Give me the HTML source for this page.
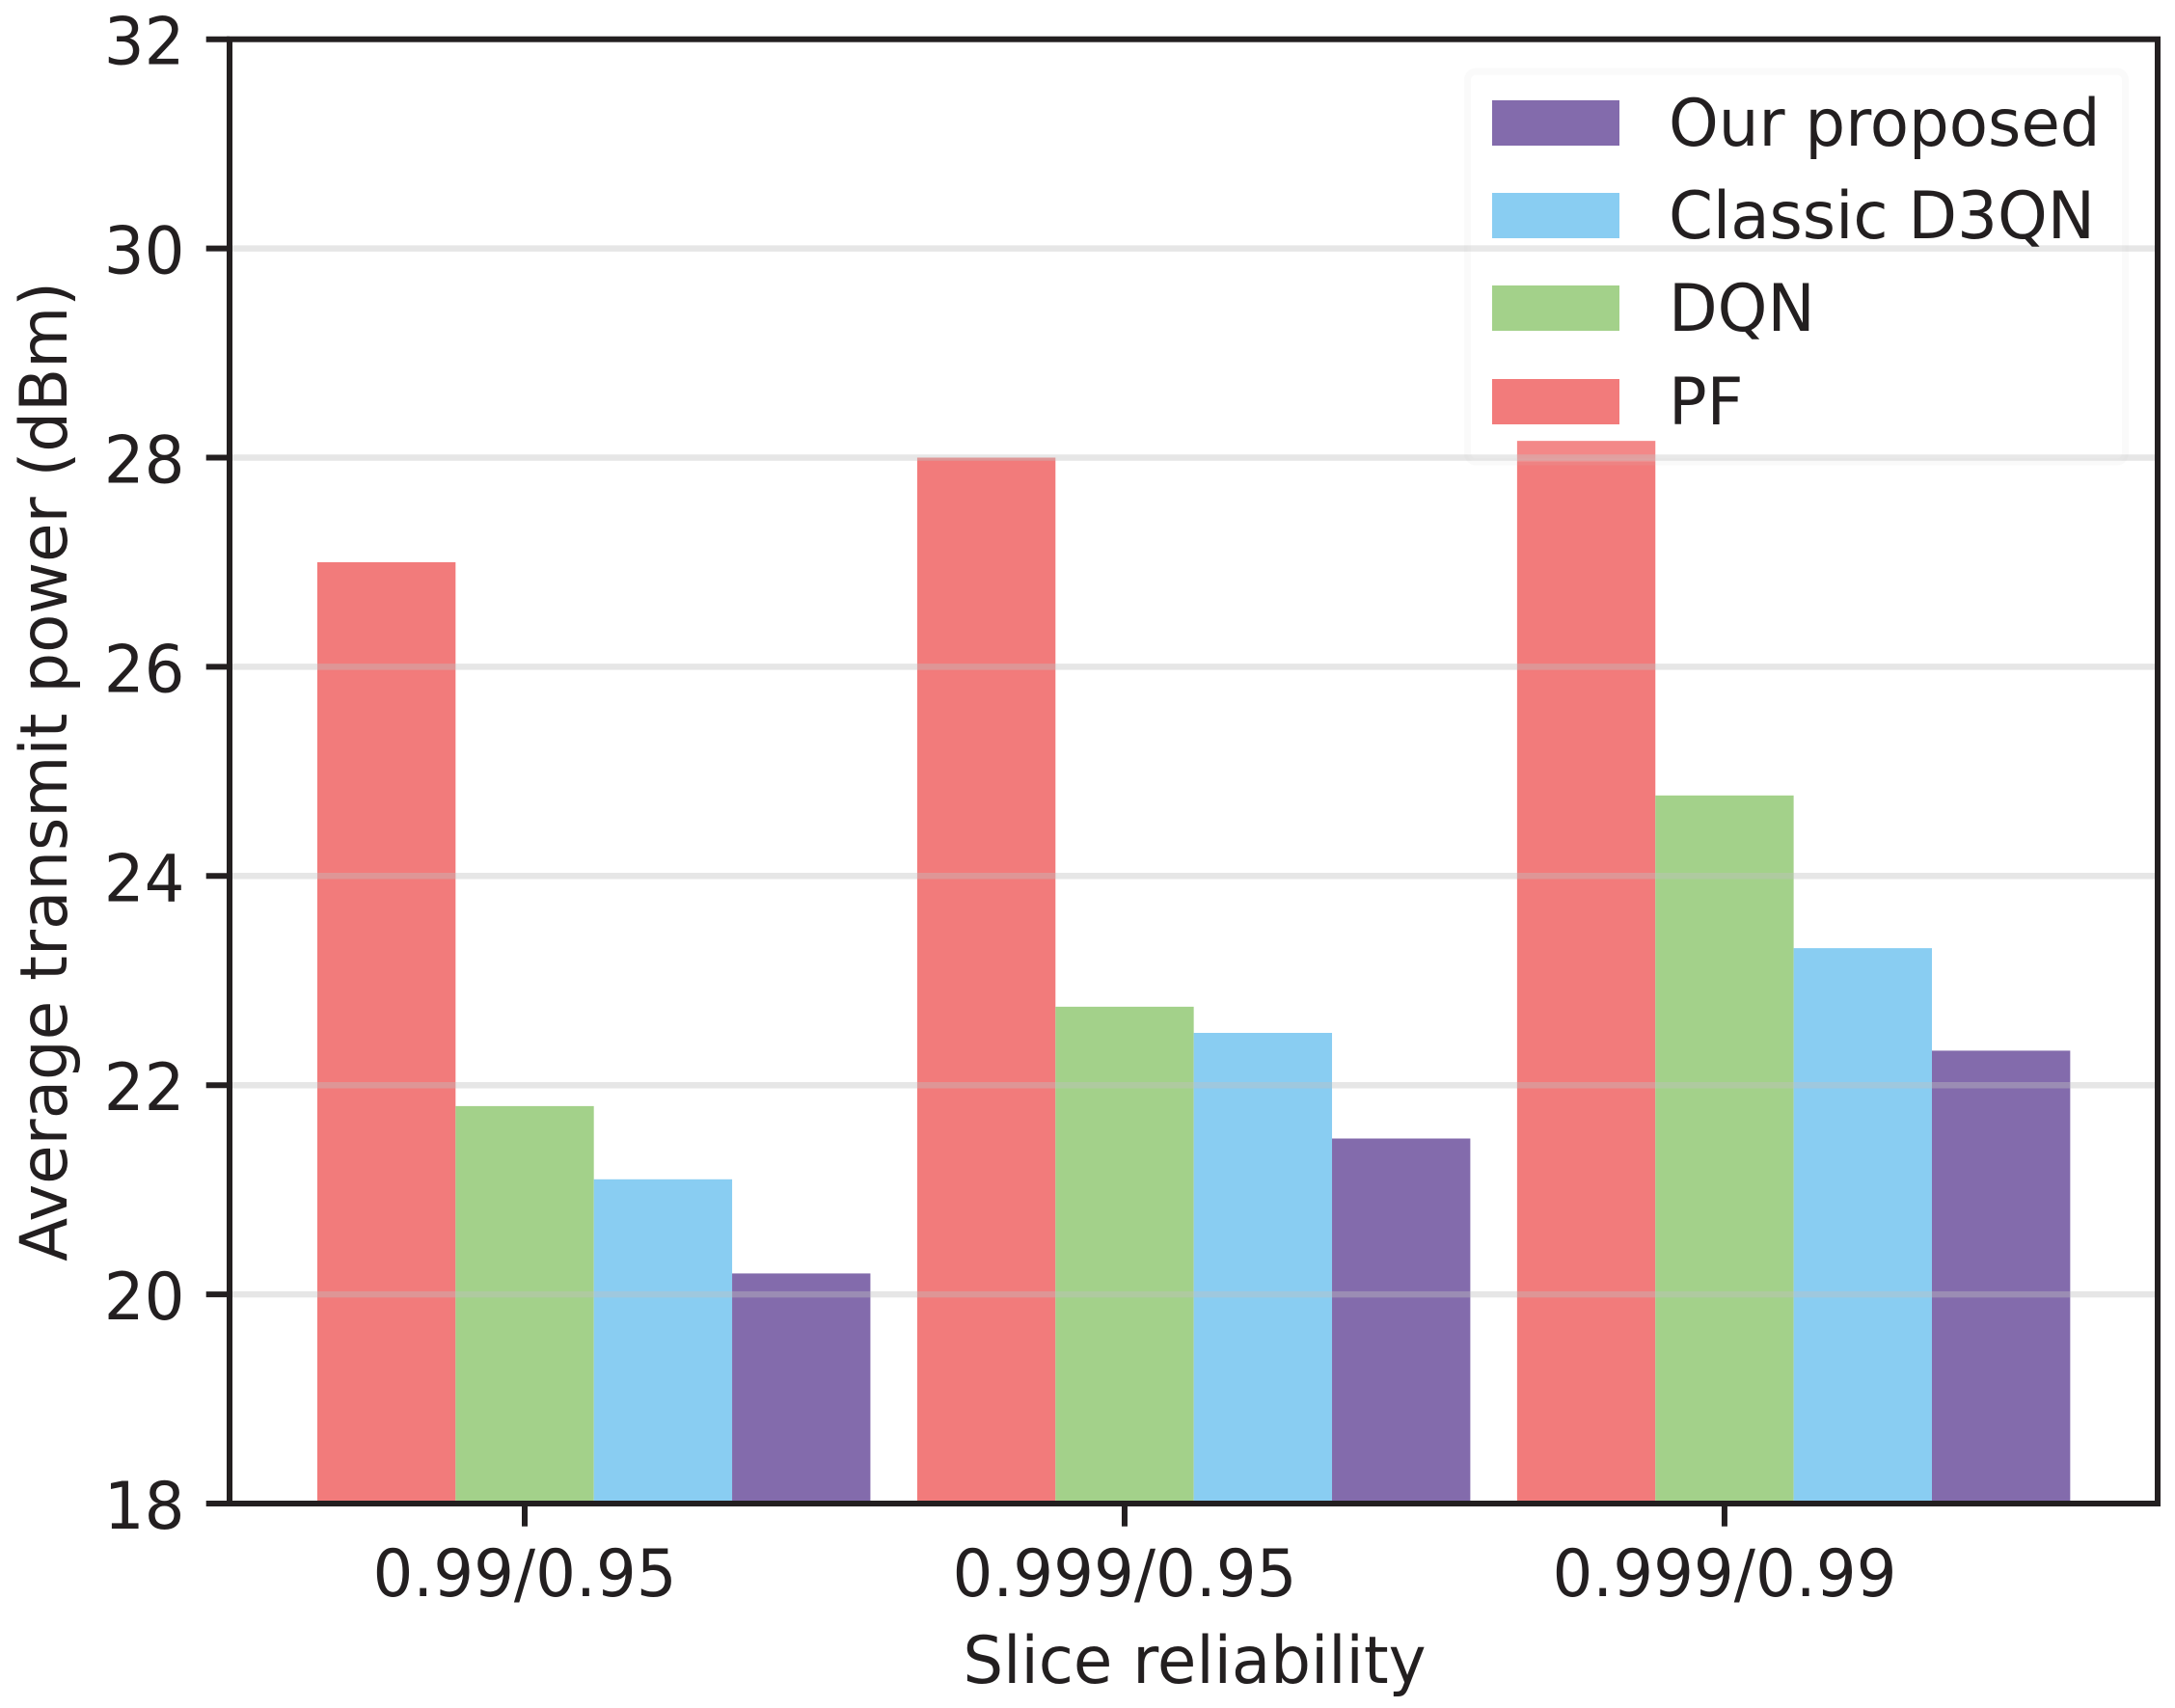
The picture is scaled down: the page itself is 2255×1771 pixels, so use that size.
<!DOCTYPE html>
<html lang="en">
<head>
<meta charset="utf-8">
<title>Average transmit power by slice reliability</title>
<style>
html,body{margin:0;padding:0;background:#fff;}
body{width:2255px;height:1771px;overflow:hidden;}
svg{display:block;}
text{font-family:"DejaVu Sans","Liberation Sans",sans-serif;fill:#231f20;}
</style>
</head>
<body>
<svg id="chart" xmlns="http://www.w3.org/2000/svg" width="2255" height="1771" viewBox="0 0 2255 1771">
  <rect x="0" y="0" width="2255" height="1771" fill="#ffffff"/>
  <g id="bars"></g>
  <g id="grid"></g>
  <g id="legend"></g>
  <g id="ticks"></g>
  <rect x="238" y="40.7" width="1999" height="1518.3" fill="none" stroke="#231f20" stroke-width="6"/>
  <text transform="translate(1238.5,1745) scale(1,1.03)" text-anchor="middle" font-size="65.8">Slice reliability</text>
  <text transform="translate(69,800) rotate(-90) scale(1,1.03)" text-anchor="middle" font-size="65.8">Average transmit power (dBm)</text>
</svg>
<script>
const categories = ['0.99/0.95', '0.999/0.95', '0.999/0.99'];
const pfValues = [27.0, 28.0, 28.16];
const dqnValues = [21.8, 22.75, 24.77];
const d3qnValues = [21.1, 22.5, 23.31];
const proposedValues = [20.2, 21.49, 22.33];
const yTickValues = [18, 20, 22, 24, 26, 28, 30, 32];
const legendLabels = ['Our proposed', 'Classic D3QN', 'DQN', 'PF'];

const NS = 'http://www.w3.org/2000/svg';
const plot = {left: 238, right: 2237, top: 40.7, bottom: 1559};
const xMin = -0.492, xMax = 2.722, yMin = 18, yMax = 32;
const barWidth = 0.2305;
const scaleX = v => plot.left + (v - xMin) / (xMax - xMin) * (plot.right - plot.left);
const scaleY = v => plot.bottom - (v - yMin) / (yMax - yMin) * (plot.bottom - plot.top);

function make(tag, attrs, parent) {
  const el = document.createElementNS(NS, tag);
  for (const k in attrs) el.setAttribute(k, attrs[k]);
  parent.appendChild(el);
  return el;
}

const barsG = document.getElementById('bars');
const gridG = document.getElementById('grid');
const ticksG = document.getElementById('ticks');
const legendG = document.getElementById('legend');

const seriesList = [
  {key: 'pf', values: pfValues, color: '#f27b7b'},
  {key: 'dqn', values: dqnValues, color: '#a3d18a'},
  {key: 'd3qn', values: d3qnValues, color: '#89cdf2'},
  {key: 'proposed', values: proposedValues, color: '#836bac'}
];

seriesList.forEach((s, si) => {
  s.values.forEach((v, i) => {
    const x0 = scaleX(i + (si - 1.5) * barWidth);
    const x1 = scaleX(i + (si - 0.5) * barWidth);
    const r = make('rect', {x: x0, y: scaleY(v), width: x1 - x0, height: plot.bottom - scaleY(v), fill: s.color}, barsG);
    
    
  });
});

yTickValues.forEach(v => {
  const y = scaleY(v);
  if (v !== yMin && v !== yMax) {
    const g = make('line', {x1: plot.left, x2: plot.right, y1: y, y2: y, stroke: '#c0c0c0', 'stroke-opacity': 0.4, 'stroke-width': 6.5}, gridG);
    
    
  }
  const t = make('line', {x1: 213.7, x2: plot.left, y1: y, y2: y, stroke: '#231f20', 'stroke-width': 6}, ticksG);
  
  
  const l = make('text', {transform: 'translate(191.5,' + (y + 26) + ') scale(1,1.03)', 'text-anchor': 'end', 'font-size': 65.8}, ticksG);
  l.textContent = String(v);
  
  
});

categories.forEach((c, i) => {
  const x = scaleX(i);
  const t = make('line', {x1: x, x2: x, y1: plot.bottom, y2: 1582.7, stroke: '#231f20', 'stroke-width': 6}, ticksG);
  
  
  const l = make('text', {transform: 'translate(' + x + ',1655) scale(1,1.03)', 'text-anchor': 'middle', 'font-size': 65.8}, ticksG);
  l.textContent = c;
  
  
});

const legendBox = make('rect', {x: 1521.5, y: 74, width: 682, height: 405, rx: 9, ry: 9, fill: '#ffffff', 'fill-opacity': 0.1, stroke: '#cccccc', 'stroke-opacity': 0.1, 'stroke-width': 7}, legendG);



const legendColors = ['#836bac', '#89cdf2', '#a3d18a', '#f27b7b'];
const legendRowTops = [104, 200, 296, 393];
legendLabels.forEach((label, i) => {
  const sw = make('rect', {x: 1547, y: legendRowTops[i], width: 132, height: 47, fill: legendColors[i]}, legendG);
  
  
  const t = make('text', {transform: 'translate(1730,' + (legendRowTops[i] + 47) + ') scale(1,1.03)', 'font-size': 65.8}, legendG);
  t.textContent = label;
  
  
});
</script>
</body>
</html>
